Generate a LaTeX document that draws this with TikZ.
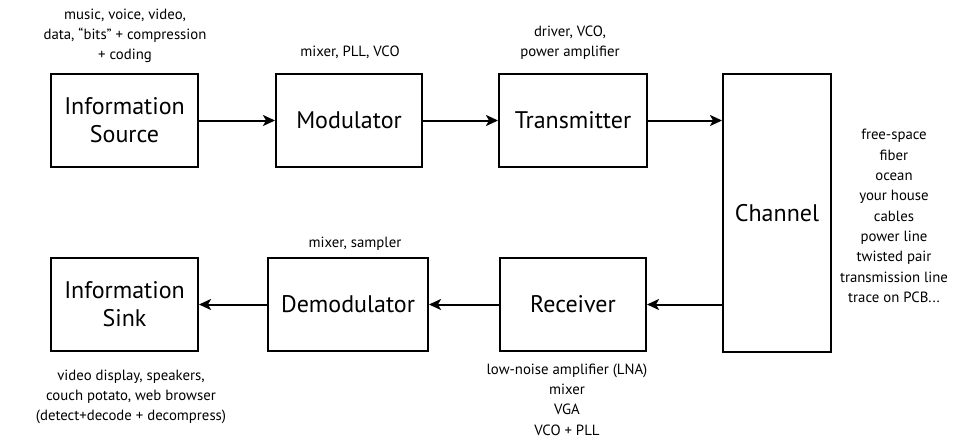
\documentclass[tikz,border=0pt]{standalone}
\usepackage{fontspec}
\setmainfont{PT Sans}
\usetikzlibrary{arrows.meta}
\begin{document}
\begin{tikzpicture}[x=1pt,y=-1pt,
  blk/.style={draw, line width=2pt, align=center, inner sep=0pt,
    font=\fontsize{24}{28}\selectfont},
  lbl/.style={align=center, inner sep=0pt, font=\fontsize{14.8}{20.3}\selectfont},
  arr/.style={line width=2pt, -{Stealth[length=12pt,width=11pt,inset=3pt]}}]
\useasboundingbox (0,0) rectangle (956,439);

% upper chain
\node[blk, minimum width=147pt, minimum height=93pt] (src) at (124.5,120.5) {Information\\Source};
\node[blk, minimum width=146pt, minimum height=93pt] (mod) at (349,120.5) {Modulator};
\node[blk, minimum width=148pt, minimum height=93pt] (tx) at (573,120.5) {Transmitter};

% channel
\node[blk, minimum width=108pt, minimum height=278pt] (ch) at (777,213) {Channel};

% lower chain
\node[blk, minimum width=146pt, minimum height=93pt] (rx) at (573,304.5) {Receiver};
\node[blk, minimum width=160pt, minimum height=93pt] (dem) at (348,304.5) {Demodulator};
\node[blk, minimum width=147pt, minimum height=93pt] (snk) at (124.5,304.5) {Information\\Sink};

% signal path
\draw[arr] (src) -- (mod);
\draw[arr] (mod) -- (tx);
\draw[arr] (tx.east) -- (tx.east -| ch.west);
\draw[arr] (ch.west |- rx.east) -- (rx.east);
\draw[arr] (rx) -- (dem);
\draw[arr] (dem) -- (snk);

% annotations
\node[lbl] (srcl) at (125,36) {music, voice, video,\\data, “bits” + compression\\+ coding};
\node[lbl] (modl) at (350,52) {mixer, PLL, VCO};
\node[lbl] (txl) at (570,42.5) {driver, VCO,\\power amplifier};
\node[lbl] (chl) at (894,216) {free-space\\fiber\\ocean\\your house\\cables\\power line\\twisted pair\\transmission line\\trace on PCB...};
\node[lbl] (deml) at (355,244) {mixer, sampler};
\node[lbl] (rxl) at (567,399.5) {low-noise amplifier (LNA)\\mixer\\VGA\\VCO + PLL};
\node[lbl] (snkl) at (131,397) {video display, speakers,\\couch potato, web browser\\(detect+decode + decompress)};
\end{tikzpicture}
\end{document}
